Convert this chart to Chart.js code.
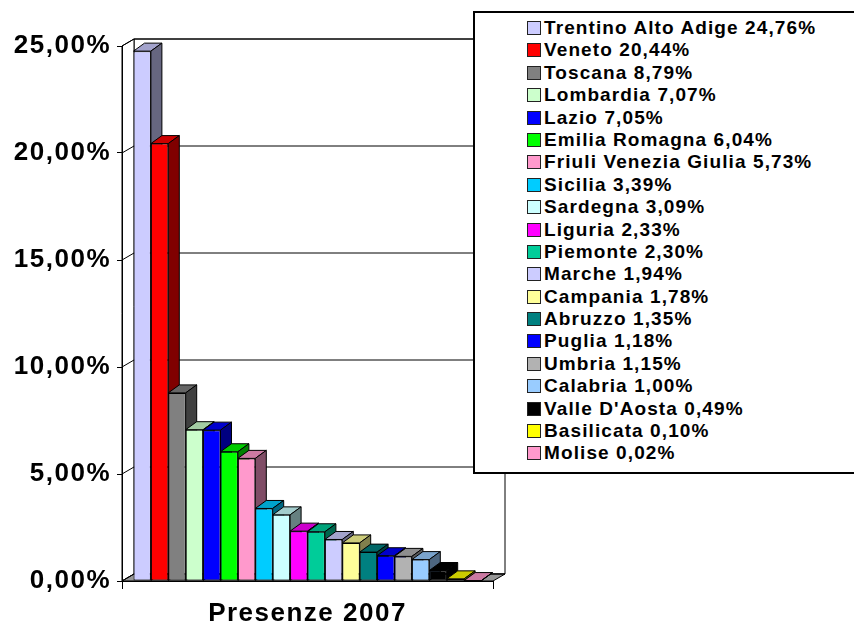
<!DOCTYPE html>
<html>
<head>
<meta charset="utf-8">
<script src="https://cdn.jsdelivr.net/npm/chart.js@4/dist/chart.umd.min.js"></script>
<style>
  body { margin: 0; background: #fff; }
  #wrap { position: relative; width: 854px; height: 626px; overflow: hidden; }
  #legend {
    position: absolute; left: 473px; top: 11px; width: 420px; height: 463px;
    box-sizing: border-box; border: 2px solid #000; background: #fff;
    padding-top: 3.8px;
    font: bold 19px "Liberation Sans", Arial, sans-serif; letter-spacing: 1.1px; color: #000;
  }
  .item { display: flex; align-items: center; height: 22.4px; white-space: nowrap; }
  .sw { width: 14px; height: 14px; box-sizing: border-box; border: 1px solid #222; margin-left: 52px; margin-right: 3px; }
</style>
</head>
<body>
<div id="wrap">
  <canvas id="chart" width="854" height="626"></canvas>
  <div id="legend"></div>
</div>
<script>
// Quota presenze 2007 per regione (%)
const category = ['Presenze 2007'];
const regions = ['Trentino Alto Adige', 'Veneto', 'Toscana', 'Lombardia', 'Lazio',
  'Emilia Romagna', 'Friuli Venezia Giulia', 'Sicilia', 'Sardegna', 'Liguria',
  'Piemonte', 'Marche', 'Campania', 'Abruzzo', 'Puglia', 'Umbria', 'Calabria',
  "Valle D'Aosta", 'Basilicata', 'Molise'];
const values = [24.76, 20.44, 8.79, 7.07, 7.05, 6.04, 5.73, 3.39, 3.09, 2.33,
  2.30, 1.94, 1.78, 1.35, 1.18, 1.15, 1.00, 0.49, 0.10, 0.02];
const colors = ['#CCCCFF', '#FF0000', '#808080', '#CCFFCC', '#0000FF', '#00FF00',
  '#FF99CC', '#00CCFF', '#CCFFFF', '#FF00FF', '#00CC99', '#CCCCFF', '#FFFF99',
  '#008080', '#0000FF', '#B2B2B2', '#99CCFF', '#000000', '#FFFF00', '#FF99CC'];
const yMin = 0, yMax = 25, yStep = 5;

const fmt = v => v.toFixed(2).replace('.', ',') + '%';

// darker faces for the fake 3d
function shade(hex, f) {
  const n = parseInt(hex.slice(1), 16);
  const r = Math.round(((n >> 16) & 255) * f);
  const g = Math.round(((n >> 8) & 255) * f);
  const b = Math.round((n & 255) * f);
  return `rgb(${r},${g},${b})`;
}

function poly(ctx, pts, fill) {
  ctx.beginPath();
  ctx.moveTo(pts[0][0], pts[0][1]);
  for (let i = 1; i < pts.length; i++) ctx.lineTo(pts[i][0], pts[i][1]);
  ctx.closePath();
  if (fill) { ctx.fillStyle = fill; ctx.fill(); }
  ctx.stroke();
}

const barDepth = { dx: 11, dy: -8 };
const wallDepth = { dx: 12, dy: -7 };

const box3d = {
  id: 'box3d',
  beforeDraw(chart) {
    const { ctx, chartArea: a, scales: { y } } = chart;
    // a bit of spacing on the axis text, like the excel original
    ctx.letterSpacing = '1.5px';
    const { dx, dy } = wallDepth;
    const top = y.getPixelForValue(yMax), bot = y.getPixelForValue(yMin);
    ctx.save();
    ctx.lineWidth = 1;
    ctx.strokeStyle = '#000';
    // back wall
    poly(ctx, [[a.left + dx, top + dy], [a.right + dx, top + dy], [a.right + dx, bot + dy], [a.left + dx, bot + dy]], '#fff');
    // left wall
    poly(ctx, [[a.left, top], [a.left + dx, top + dy], [a.left + dx, bot + dy], [a.left, bot]], '#fff');
    // floor
    poly(ctx, [[a.left, bot], [a.left + dx, bot + dy], [a.right + dx, bot + dy], [a.right, bot]], '#969696');
    // gridlines on the walls
    y.ticks.forEach(t => {
      const p = y.getPixelForValue(t.value);
      ctx.beginPath();
      ctx.moveTo(a.left, p);
      ctx.lineTo(a.left + dx, p + dy);
      ctx.lineTo(a.right + dx, p + dy);
      ctx.stroke();
    });
    ctx.restore();
  },
  beforeDatasetsDraw(chart) {
    const { ctx } = chart;
    const { dx, dy } = barDepth;
    ctx.save();
    ctx.lineWidth = 1;
    ctx.strokeStyle = '#000';
    chart.data.datasets.forEach((ds, i) => {
      const bar = chart.getDatasetMeta(i).data[0];
      const { x, y, base, width } = bar.getProps(['x', 'y', 'base', 'width'], true);
      const l = x - width / 2, r = x + width / 2;
      poly(ctx, [[l, y], [l + dx, y + dy], [r + dx, y + dy], [r, y]], shade(ds.backgroundColor, 0.8));
      poly(ctx, [[r, y], [r + dx, y + dy], [r + dx, base + dy], [r, base]], shade(ds.backgroundColor, 0.5));
    });
    ctx.restore();
  }
};

const axisFont = { family: '"Liberation Sans", Arial, sans-serif', size: 26, weight: 'bold', lineHeight: 1.2 };

new Chart(document.getElementById('chart'), {
  type: 'bar',
  data: {
    labels: category,
    datasets: regions.map((name, i) => ({
      label: name + ' ' + fmt(values[i]),
      data: [values[i]],
      backgroundColor: colors[i],
      borderColor: '#000',
      borderWidth: 1,
      borderSkipped: false
    }))
  },
  options: {
    responsive: false,
    animation: false,
    categoryPercentage: 0.938,
    barPercentage: 1,
    layout: { padding: { left: 0, top: 46, right: 361, bottom: 0 } },
    plugins: { legend: { display: false }, tooltip: { enabled: false } },
    scales: {
      x: {
        afterFit: s => { s.height = 45; },
        grid: { drawOnChartArea: false, drawTicks: true, tickLength: 8, color: '#000', offset: true },
        border: { display: true, color: '#000', width: 1 },
        ticks: { color: '#000', padding: 9, maxRotation: 0, font: axisFont }
      },
      y: {
        min: yMin, max: yMax,
        afterFit: s => { s.width = 122; },
        grid: { drawOnChartArea: false, drawTicks: true, tickLength: 5, color: '#000' },
        border: { display: true, color: '#000', width: 1 },
        ticks: {
          stepSize: yStep, color: '#000', padding: 6,
          callback: v => fmt(v),
          font: axisFont
        }
      }
    }
  },
  plugins: [box3d]
});

// legend box, on top of the back wall like the original
const legend = document.getElementById('legend');
regions.forEach((name, i) => {
  const row = document.createElement('div');
  row.className = 'item';
  const sw = document.createElement('span');
  sw.className = 'sw';
  sw.style.background = colors[i];
  const txt = document.createElement('span');
  txt.textContent = name + ' ' + fmt(values[i]);
  row.appendChild(sw);
  row.appendChild(txt);
  legend.appendChild(row);
});
</script>
</body>
</html>
